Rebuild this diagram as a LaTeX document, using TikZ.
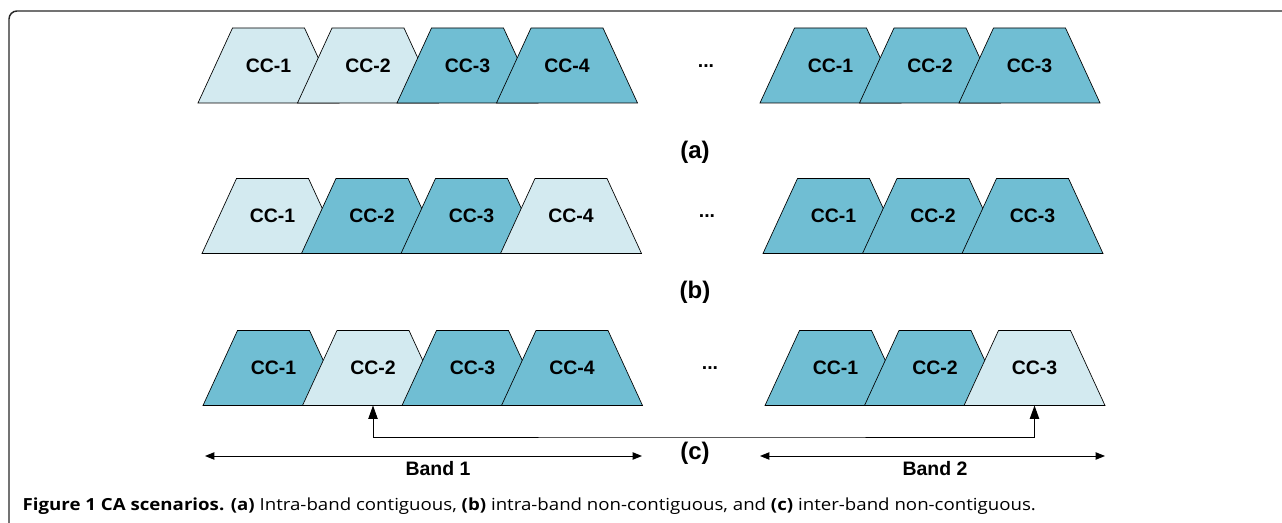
\documentclass[tikz,border=0pt]{standalone}
\usepackage{fontspec}
\setmainfont{Liberation Sans}
\newfontfamily\capfont[FakeStretch=1.12]{Open Sans}
\usetikzlibrary{arrows.meta}
\definecolor{ccLight}{RGB}{211,234,240}
\definecolor{ccDark}{RGB}{112,190,211}
% carrier block: name, x, y, fill, label
\newcommand{\ccblock}[5]{%
  \draw [draw=black, line width=0.5pt, fill=#4] (#2-70.5,#3+37.5) -- (#2-36,#3-37.5) -- (#2+36,#3-37.5) -- (#2+70.5,#3+37.5) -- cycle ;
  \node [cclab] (#1) at (#2,#3) {#5};
  \coordinate (#1-s) at (#2,#3+37.5);}
\begin{document}
\begin{tikzpicture}[x=0.75pt,y=0.75pt,yscale=-1,xscale=1,
  cclab/.style={inner sep=0pt,font=\fontsize{14.6}{16}\selectfont\bfseries},
  lbl/.style={font=\fontsize{18}{20}\selectfont\bfseries},
  band/.style={line width=0.7pt,{Triangle[length=7pt,width=5.5pt]}-{Triangle[length=7pt,width=5.5pt]}}]
\useasboundingbox (0,0) rectangle (1282,523);

% Frame
\draw [color={rgb, 255:red, 40; green, 40; blue, 40 }, line width=1.1pt, rounded corners=6pt] (9,523) -- (9,11) -- (1282,11) ;

% Row (a)
\ccblock{a1}{268.5}{65.5}{ccLight}{CC-1}
\ccblock{a2}{368}{65.5}{ccLight}{CC-2}
\ccblock{a3}{467.5}{65.5}{ccDark}{CC-3}
\ccblock{a4}{567}{65.5}{ccDark}{CC-4}
\node [cclab] (adots) at (706,66) {...};
\ccblock{ar1}{830.5}{65.5}{ccDark}{CC-1}
\ccblock{ar2}{930}{65.5}{ccDark}{CC-2}
\ccblock{ar3}{1029.5}{65.5}{ccDark}{CC-3}
\node [lbl] (alab) at (695,152) {(a)};

% Row (b)
\ccblock{b1}{272.5}{216}{ccLight}{CC-1}
\ccblock{b2}{372}{216}{ccDark}{CC-2}
\ccblock{b3}{471.5}{216}{ccDark}{CC-3}
\ccblock{b4}{571}{216}{ccLight}{CC-4}
\node [cclab] (bdots) at (707,216) {...};
\ccblock{br1}{833.5}{216}{ccDark}{CC-1}
\ccblock{br2}{933}{216}{ccDark}{CC-2}
\ccblock{br3}{1032.5}{216}{ccDark}{CC-3}
\node [lbl] (blab) at (695,292) {(b)};

% Row (c)
\ccblock{c1}{273.5}{368}{ccDark}{CC-1}
\ccblock{c2}{373}{368}{ccLight}{CC-2}
\ccblock{c3}{472.5}{368}{ccDark}{CC-3}
\ccblock{c4}{572}{368}{ccDark}{CC-4}
\node [cclab] (cdots) at (710,368) {...};
\ccblock{cr1}{835.5}{368}{ccDark}{CC-1}
\ccblock{cr2}{935}{368}{ccDark}{CC-2}
\ccblock{cr3}{1034.5}{368}{ccLight}{CC-3}
\node [lbl] (clab) at (695,453) {(c)};

% Inter-band link
\coordinate (link) at (700,437);
\draw [line width=0.7pt,{Triangle[length=10pt,width=7pt]}-{Triangle[length=10pt,width=7pt]}] (c2-s) |- (link) -| (cr3-s) ;

% Bands
\coordinate (b1l) at (205,456);
\coordinate (b1r) at (642,456);
\coordinate (b2l) at (760,456);
\coordinate (b2r) at (1105,456);
\draw [band] (b1l) -- (b1r) ;
\draw [band] (b2l) -- (b2r) ;
\node [cclab] (band1) at (438,469) {Band 1};
\node [cclab] (band2) at (935,469) {Band 2};

% Caption
\node [anchor=west,font=\capfont\fontsize{12.5}{14}\selectfont] (cap) at (18,506) {\textbf{Figure 1 CA scenarios.} \textbf{(a)} Intra-band contiguous, \textbf{(b)} intra-band non-contiguous, and \textbf{(c)} inter-band non-contiguous.};

\end{tikzpicture}
\end{document}
